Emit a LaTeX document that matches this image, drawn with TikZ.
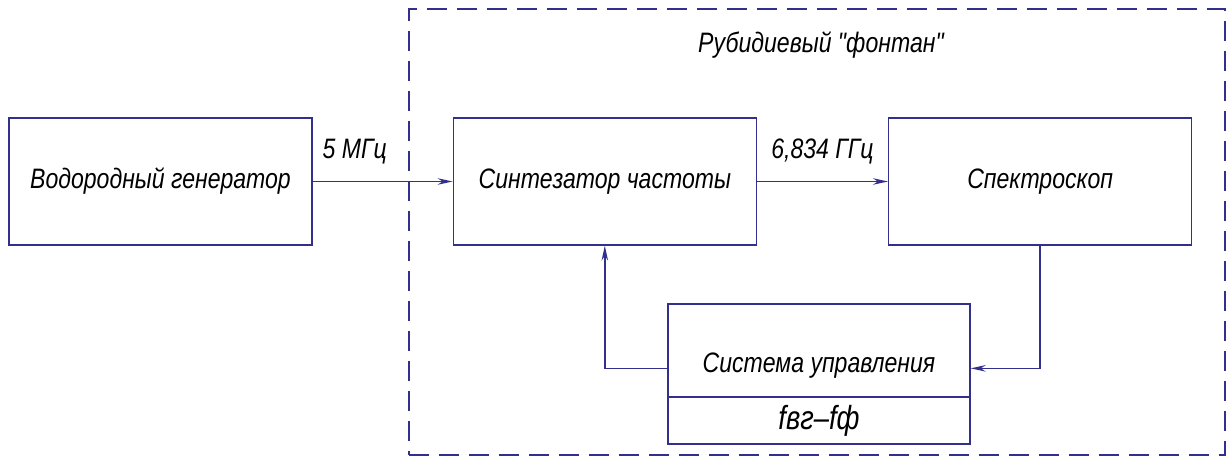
\documentclass[tikz,border=0pt]{standalone}
\usepackage{fontspec}
\setmainfont{Liberation Sans}[FakeStretch=0.82, Ligatures=TeXOff]
\usepackage{xcolor}
\usetikzlibrary{arrows.meta, positioning}
\definecolor{linecol}{RGB}{50,48,140}

\begin{document}
\begin{tikzpicture}[
    x=0.02cm, y=-0.02cm,
    >={Stealth[length=3mm, width=1.3mm]},
    txt/.style={font=\fontsize{16}{19}\selectfont\itshape},
    box/.style={draw=linecol, line width=0.8pt, txt, inner sep=0pt,
                minimum width=6.06cm, minimum height=2.54cm},
    ctrlbox/.style={box, minimum width=6.04cm, minimum height=1.86cm,
                text height=1.0cm, text depth=0.1cm},
    subbox/.style={box, minimum width=6.04cm, minimum height=0.94cm,
                font=\fontsize{19}{22}\selectfont\itshape},
    frame/.style={draw=linecol, line width=1pt, dash pattern=on 0.4cm off 0.2cm,
                minimum width=16.32cm, minimum height=8.92cm},
    link/.style={draw=linecol, line width=0.8pt, ->},
    lab/.style={txt, text=black, inner sep=1pt}]
    \useasboundingbox (0,0) rectangle (1230,459);
    \node[frame] (fountain) at (817,232) {};
    \node[txt] (title) at (821,45) {Рубидиевый "фонтан"};
    \node[box] (gen) at (160.5,181.5) {Водородный генератор};
    \node[box, right=2.8cm of gen] (synth) {Синтезатор частоты};
    \node[box, right=2.62cm of synth] (spectro) {Спектроскоп};
    \node[ctrlbox] (ctrl) at (819,350.5) {Система управления};
    \node[subbox, below=-0.8pt of ctrl] (fvg) {fвг–fф};
    \draw[link] (gen) -- node[lab, pos=0.3, above=0.3cm]{5 МГц} (synth);
    \draw[link] (synth) -- node[lab, midway, above=0.3cm]{6,834 ГГц} (spectro);
    \draw[link] (spectro.south) |- (ctrl.mid east);
    \draw[link] (ctrl.mid west) -| (synth.south);
\end{tikzpicture}
\end{document}
